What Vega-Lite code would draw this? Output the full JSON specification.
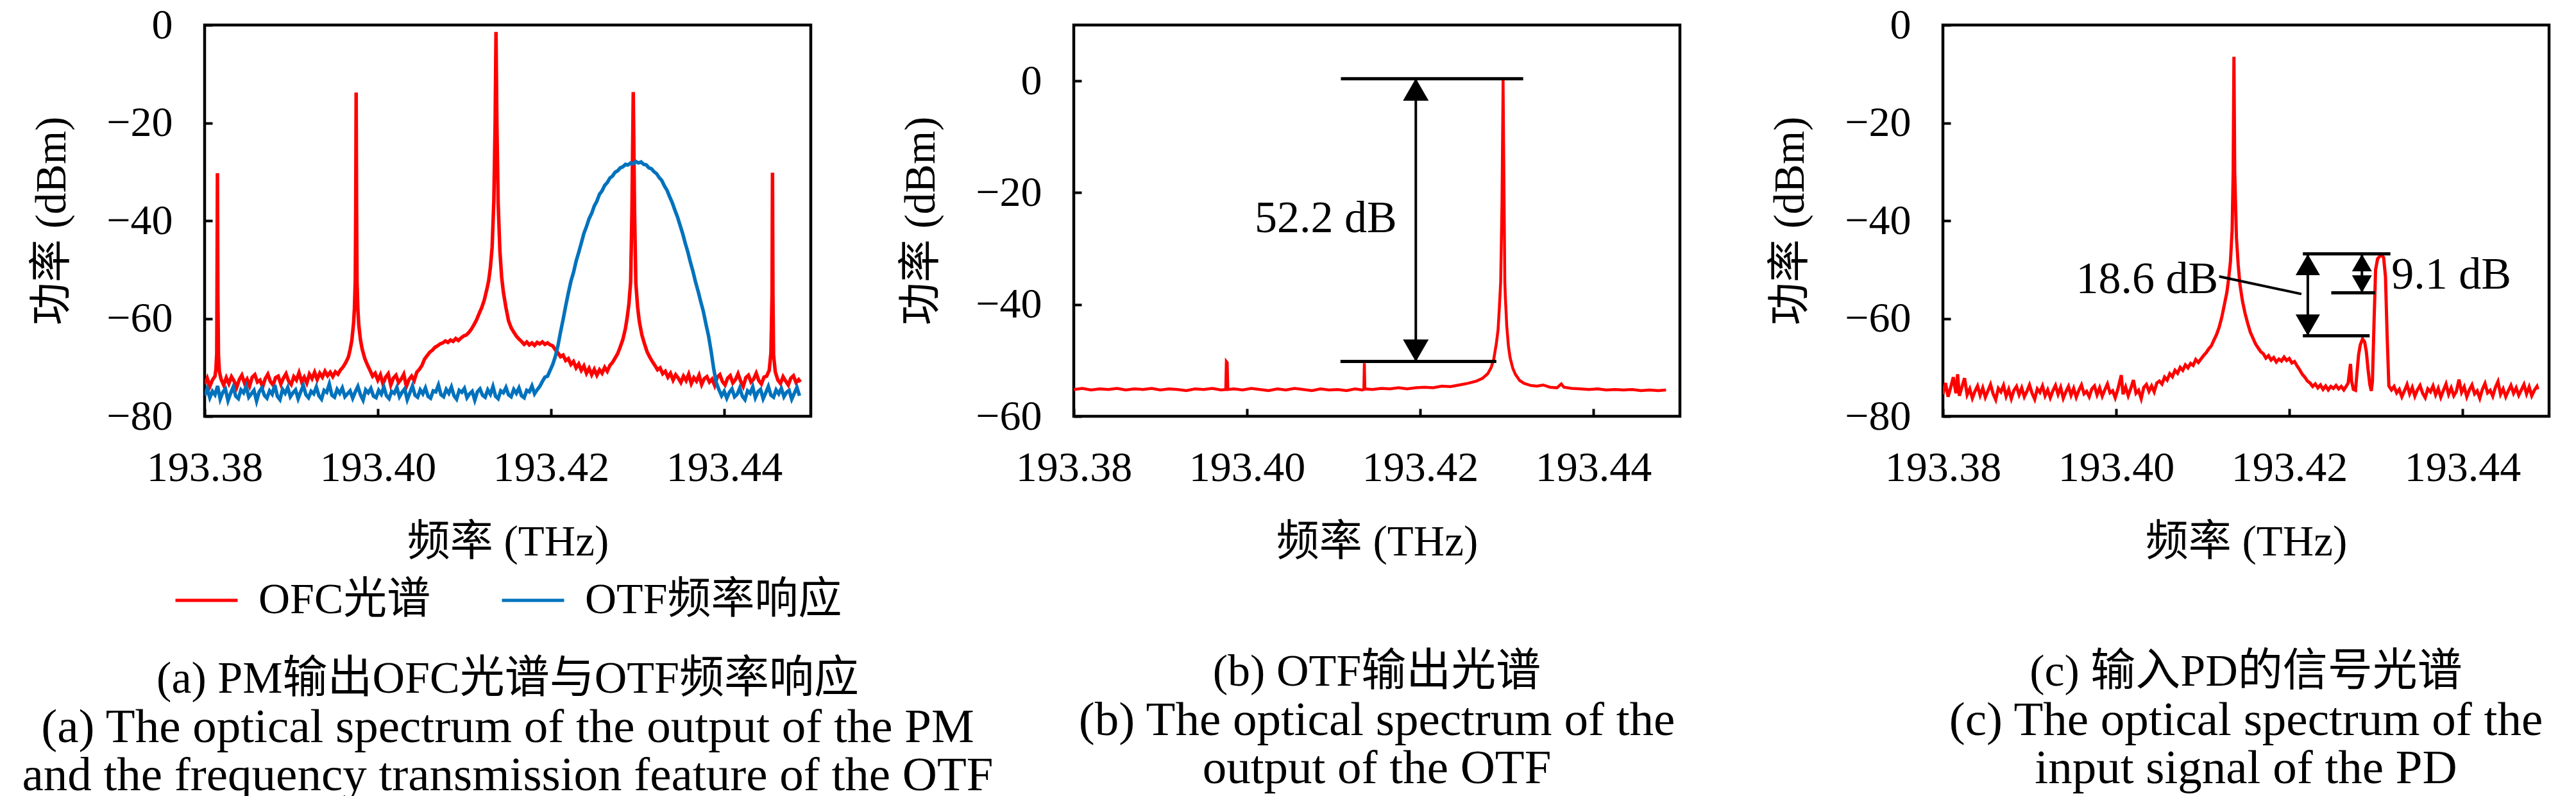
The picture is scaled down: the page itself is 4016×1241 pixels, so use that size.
{
  "$schema": "https://vega.github.io/schema/vega-lite/v6.json",
  "padding": {"left": 32, "top": 3, "right": 5, "bottom": 0},
  "background": "white",
  "bounds": "flush",
  "spacing": 410,
  "resolve": {"scale": {"color": "independent"}},
  "config": {
    "font": "Liberation Serif, Noto Sans CJK SC",
    "view": {"stroke": "black", "strokeWidth": 4.5},
    "axis": {
      "domain": false, "grid": false, "tickSize": -12, "tickWidth": 4, "tickColor": "black",
      "labelFont": "Liberation Serif, Noto Sans CJK SC", "labelFontSize": 66, "labelColor": "black",
      "labelFlush": false, "labelOverlap": false, "labelLimit": 0,
      "titleFont": "Liberation Serif, Noto Sans CJK SC", "titleFontSize": 67, "titleFontWeight": "normal", "titleColor": "black"
    },
    "axisX": {"labelPadding": 60, "titlePadding": 50},
    "axisY": {"labelPadding": 62, "titlePadding": 50},
    "title": {
      "orient": "bottom", "anchor": "middle", "frame": "group",
      "font": "Liberation Serif, Noto Sans CJK SC", "fontSize": 70, "fontWeight": "normal", "color": "black",
      "subtitleFont": "Liberation Serif, Noto Sans CJK SC", "subtitleFontSize": 75, "subtitleColor": "black",
      "subtitleLineHeight": 75, "subtitlePadding": 0
    },
    "legend": {
      "orient": "bottom", "direction": "horizontal", "symbolType": "stroke", "symbolSize": 9400,
      "symbolStrokeWidth": 5, "labelFont": "Liberation Serif, Noto Sans CJK SC", "labelFontSize": 68,
      "labelColor": "black", "labelOffset": 30, "labelLimit": 0, "columnPadding": 100, "offset": 7,
      "layout": {"bottom": {"anchor": "middle"}}
    },
    "text": {"font": "Liberation Serif, Noto Sans CJK SC", "fontSize": 70, "color": "black"}
  },
  "datasets": {
    "a_ofc": [
      {"f":193.3800,"p":-73.4},{"f":193.3803,"p":-72.2},{"f":193.3806,"p":-73.9},{"f":193.3809,"p":-72.6},{"f":193.3812,"p":-71.8},{"f":193.3813,"p":-70.5},{"f":193.3814,"p":-67.2},{"f":193.38143,"p":-55},{"f":193.38148,"p":-30.3},{"f":193.38153,"p":-55},{"f":193.3816,"p":-67.5},{"f":193.3817,"p":-70.8},{"f":193.3819,"p":-72.4},{"f":193.3822,"p":-73.6},{"f":193.3825,"p":-72.1},{"f":193.3828,"p":-73.3},{"f":193.3831,"p":-71.9},{"f":193.3834,"p":-72.8},{"f":193.3837,"p":-74.1},{"f":193.3840,"p":-72.5},{"f":193.3843,"p":-71.6},{"f":193.3846,"p":-73.2},{"f":193.3849,"p":-72.4},{"f":193.3852,"p":-73.8},{"f":193.3855,"p":-72.0},{"f":193.3858,"p":-71.5},{"f":193.3861,"p":-73.0},{"f":193.3864,"p":-72.6},{"f":193.3867,"p":-74.0},{"f":193.3870,"p":-72.3},{"f":193.3873,"p":-71.4},{"f":193.3876,"p":-72.9},{"f":193.3879,"p":-73.6},{"f":193.3882,"p":-72.1},{"f":193.3885,"p":-71.8},{"f":193.3888,"p":-73.4},{"f":193.3891,"p":-72.2},{"f":193.3894,"p":-71.3},{"f":193.3897,"p":-72.8},{"f":193.3900,"p":-73.5},{"f":193.3903,"p":-71.9},{"f":193.3906,"p":-72.6},{"f":193.3909,"p":-71.1},{"f":193.3912,"p":-72.9},{"f":193.3915,"p":-72.0},{"f":193.3918,"p":-73.2},{"f":193.3921,"p":-71.4},{"f":193.3924,"p":-72.3},{"f":193.3927,"p":-71.0},{"f":193.3930,"p":-72.5},{"f":193.3933,"p":-71.2},{"f":193.3936,"p":-72.0},{"f":193.3939,"p":-70.8},{"f":193.3942,"p":-71.7},{"f":193.3945,"p":-71.0},{"f":193.3948,"p":-71.9},{"f":193.3951,"p":-70.9},{"f":193.3954,"p":-71.4},{"f":193.3957,"p":-70.5},{"f":193.3960,"p":-69.9},{"f":193.3963,"p":-69.0},{"f":193.3966,"p":-67.9},{"f":193.3968,"p":-66.4},{"f":193.3970,"p":-64.5},{"f":193.3972,"p":-61.0},{"f":193.3973,"p":-58.0},{"f":193.3974,"p":-52.0},{"f":193.39745,"p":-38},{"f":193.3975,"p":-13.8},{"f":193.39755,"p":-38},{"f":193.3976,"p":-52.5},{"f":193.3977,"p":-58.2},{"f":193.3978,"p":-61.3},{"f":193.3980,"p":-64.4},{"f":193.3982,"p":-66.3},{"f":193.3985,"p":-68.2},{"f":193.3988,"p":-69.5},{"f":193.3991,"p":-70.6},{"f":193.3994,"p":-71.8},{"f":193.3997,"p":-71.2},{"f":193.4000,"p":-72.6},{"f":193.4003,"p":-71.5},{"f":193.4006,"p":-73.4},{"f":193.4009,"p":-72.0},{"f":193.4012,"p":-71.3},{"f":193.4015,"p":-73.6},{"f":193.4018,"p":-72.2},{"f":193.4021,"p":-71.6},{"f":193.4024,"p":-73.1},{"f":193.4027,"p":-72.4},{"f":193.4030,"p":-71.4},{"f":193.4033,"p":-73.9},{"f":193.4036,"p":-72.5},{"f":193.4039,"p":-71.8},{"f":193.4042,"p":-72.7},{"f":193.4045,"p":-71.0},{"f":193.4048,"p":-70.4},{"f":193.4051,"p":-69.6},{"f":193.4054,"p":-68.3},{"f":193.4057,"p":-67.6},{"f":193.4060,"p":-66.9},{"f":193.4063,"p":-66.5},{"f":193.4066,"p":-65.9},{"f":193.4069,"p":-65.6},{"f":193.4072,"p":-65.2},{"f":193.4075,"p":-65.0},{"f":193.4078,"p":-64.6},{"f":193.4081,"p":-64.9},{"f":193.4084,"p":-64.4},{"f":193.4087,"p":-64.7},{"f":193.4090,"p":-64.1},{"f":193.4093,"p":-64.5},{"f":193.4096,"p":-64.0},{"f":193.4099,"p":-63.6},{"f":193.4102,"p":-63.4},{"f":193.4105,"p":-62.9},{"f":193.4108,"p":-62.2},{"f":193.4111,"p":-61.3},{"f":193.4114,"p":-60.3},{"f":193.4117,"p":-59.0},{"f":193.4120,"p":-57.8},{"f":193.4123,"p":-56.2},{"f":193.4126,"p":-54.0},{"f":193.4128,"p":-52.3},{"f":193.4130,"p":-49.6},{"f":193.4132,"p":-45.5},{"f":193.4134,"p":-36.0},{"f":193.41355,"p":-20},{"f":193.41365,"p":-1.4},{"f":193.41375,"p":-20},{"f":193.4139,"p":-36.5},{"f":193.4141,"p":-46.2},{"f":193.4143,"p":-51.5},{"f":193.4145,"p":-54.6},{"f":193.4148,"p":-57.8},{"f":193.4151,"p":-60.5},{"f":193.4154,"p":-61.9},{"f":193.4157,"p":-62.8},{"f":193.4160,"p":-63.6},{"f":193.4163,"p":-64.2},{"f":193.4166,"p":-64.7},{"f":193.4169,"p":-65.3},{"f":193.4172,"p":-64.8},{"f":193.4175,"p":-65.4},{"f":193.4178,"p":-65.0},{"f":193.4181,"p":-65.5},{"f":193.4184,"p":-64.9},{"f":193.4187,"p":-65.2},{"f":193.4190,"p":-64.8},{"f":193.4193,"p":-65.3},{"f":193.4196,"p":-65.0},{"f":193.4199,"p":-65.4},{"f":193.4202,"p":-65.6},{"f":193.4205,"p":-66.4},{"f":193.4208,"p":-67.0},{"f":193.4211,"p":-67.8},{"f":193.4214,"p":-67.5},{"f":193.4217,"p":-68.6},{"f":193.4220,"p":-68.2},{"f":193.4223,"p":-69.4},{"f":193.4226,"p":-68.8},{"f":193.4229,"p":-70.1},{"f":193.4232,"p":-69.3},{"f":193.4235,"p":-70.6},{"f":193.4238,"p":-69.7},{"f":193.4241,"p":-71.2},{"f":193.4244,"p":-70.2},{"f":193.4247,"p":-71.5},{"f":193.4250,"p":-70.4},{"f":193.4253,"p":-71.6},{"f":193.4256,"p":-70.5},{"f":193.4259,"p":-71.2},{"f":193.4262,"p":-70.0},{"f":193.4265,"p":-70.8},{"f":193.4268,"p":-69.6},{"f":193.4271,"p":-69.0},{"f":193.4274,"p":-68.1},{"f":193.4277,"p":-67.2},{"f":193.4280,"p":-65.8},{"f":193.4283,"p":-64.3},{"f":193.4286,"p":-62.0},{"f":193.4288,"p":-59.8},{"f":193.4290,"p":-57.0},{"f":193.4292,"p":-52.5},{"f":193.42935,"p":-38},{"f":193.4295,"p":-13.7},{"f":193.42965,"p":-38},{"f":193.4298,"p":-52.8},{"f":193.4300,"p":-57.6},{"f":193.4302,"p":-60.6},{"f":193.4305,"p":-63.4},{"f":193.4308,"p":-65.2},{"f":193.4311,"p":-66.8},{"f":193.4314,"p":-67.9},{"f":193.4317,"p":-68.8},{"f":193.4320,"p":-69.6},{"f":193.4323,"p":-70.5},{"f":193.4326,"p":-70.1},{"f":193.4329,"p":-71.3},{"f":193.4332,"p":-70.8},{"f":193.4335,"p":-72.0},{"f":193.4338,"p":-71.2},{"f":193.4341,"p":-72.6},{"f":193.4344,"p":-71.5},{"f":193.4347,"p":-72.2},{"f":193.4350,"p":-73.1},{"f":193.4353,"p":-71.8},{"f":193.4356,"p":-72.7},{"f":193.4359,"p":-71.4},{"f":193.4362,"p":-73.3},{"f":193.4365,"p":-72.1},{"f":193.4368,"p":-72.8},{"f":193.4371,"p":-71.6},{"f":193.4374,"p":-73.5},{"f":193.4377,"p":-72.3},{"f":193.4380,"p":-71.9},{"f":193.4383,"p":-73.0},{"f":193.4386,"p":-72.4},{"f":193.4389,"p":-73.7},{"f":193.4392,"p":-72.0},{"f":193.4395,"p":-71.5},{"f":193.4398,"p":-72.9},{"f":193.4401,"p":-73.6},{"f":193.4404,"p":-72.2},{"f":193.4407,"p":-71.7},{"f":193.4410,"p":-73.2},{"f":193.4413,"p":-72.5},{"f":193.4416,"p":-71.3},{"f":193.4419,"p":-72.8},{"f":193.4422,"p":-73.9},{"f":193.4425,"p":-72.1},{"f":193.4428,"p":-71.6},{"f":193.4431,"p":-73.0},{"f":193.4434,"p":-72.4},{"f":193.4437,"p":-71.2},{"f":193.4440,"p":-72.7},{"f":193.4443,"p":-73.4},{"f":193.4446,"p":-72.0},{"f":193.4449,"p":-71.8},{"f":193.4452,"p":-70.6},{"f":193.4454,"p":-67.0},{"f":193.44553,"p":-55},{"f":193.44558,"p":-30.2},{"f":193.44563,"p":-55},{"f":193.4457,"p":-67.4},{"f":193.4459,"p":-70.9},{"f":193.4462,"p":-72.6},{"f":193.4465,"p":-73.3},{"f":193.4468,"p":-71.9},{"f":193.4471,"p":-72.8},{"f":193.4474,"p":-73.6},{"f":193.4477,"p":-72.2},{"f":193.4480,"p":-71.7},{"f":193.4483,"p":-73.1},{"f":193.4486,"p":-72.5},{"f":193.4488,"p":-73.0}
    ],
    "a_otf": [
      {"f":193.3800,"p":-75.8},{"f":193.3803,"p":-74.3},{"f":193.3806,"p":-76.2},{"f":193.3809,"p":-74.9},{"f":193.3812,"p":-75.6},{"f":193.3815,"p":-73.8},{"f":193.3818,"p":-76.5},{"f":193.3821,"p":-75.1},{"f":193.3824,"p":-74.4},{"f":193.3827,"p":-76.8},{"f":193.3830,"p":-75.3},{"f":193.3833,"p":-74.0},{"f":193.3836,"p":-75.9},{"f":193.3839,"p":-76.4},{"f":193.3842,"p":-74.6},{"f":193.3845,"p":-75.2},{"f":193.3848,"p":-73.9},{"f":193.3851,"p":-76.1},{"f":193.3854,"p":-75.4},{"f":193.3857,"p":-74.7},{"f":193.3860,"p":-76.9},{"f":193.3863,"p":-75.0},{"f":193.3866,"p":-74.2},{"f":193.3869,"p":-75.7},{"f":193.3872,"p":-76.3},{"f":193.3875,"p":-74.8},{"f":193.3878,"p":-75.5},{"f":193.3881,"p":-73.6},{"f":193.3884,"p":-75.9},{"f":193.3887,"p":-76.6},{"f":193.3890,"p":-74.5},{"f":193.3893,"p":-75.3},{"f":193.3896,"p":-74.1},{"f":193.3899,"p":-76.0},{"f":193.3902,"p":-75.2},{"f":193.3905,"p":-74.6},{"f":193.3908,"p":-76.4},{"f":193.3911,"p":-75.0},{"f":193.3914,"p":-73.7},{"f":193.3917,"p":-75.6},{"f":193.3920,"p":-76.2},{"f":193.3923,"p":-74.9},{"f":193.3926,"p":-75.4},{"f":193.3929,"p":-74.0},{"f":193.3932,"p":-75.8},{"f":193.3935,"p":-76.5},{"f":193.3938,"p":-74.7},{"f":193.3941,"p":-75.1},{"f":193.3944,"p":-73.4},{"f":193.3947,"p":-75.7},{"f":193.3950,"p":-76.1},{"f":193.3953,"p":-74.5},{"f":193.3956,"p":-75.3},{"f":193.3959,"p":-74.2},{"f":193.3962,"p":-76.0},{"f":193.3965,"p":-75.4},{"f":193.3968,"p":-74.8},{"f":193.3971,"p":-76.3},{"f":193.3974,"p":-75.0},{"f":193.3977,"p":-73.9},{"f":193.3980,"p":-75.6},{"f":193.3983,"p":-76.7},{"f":193.3986,"p":-74.6},{"f":193.3989,"p":-75.2},{"f":193.3992,"p":-74.3},{"f":193.3995,"p":-75.9},{"f":193.3998,"p":-76.2},{"f":193.4001,"p":-74.7},{"f":193.4004,"p":-75.5},{"f":193.4007,"p":-74.0},{"f":193.4010,"p":-75.8},{"f":193.4013,"p":-76.4},{"f":193.4016,"p":-74.9},{"f":193.4019,"p":-75.3},{"f":193.4022,"p":-74.1},{"f":193.4025,"p":-76.0},{"f":193.4028,"p":-75.1},{"f":193.4031,"p":-74.4},{"f":193.4034,"p":-76.6},{"f":193.4037,"p":-75.2},{"f":193.4040,"p":-73.8},{"f":193.4043,"p":-75.7},{"f":193.4046,"p":-76.1},{"f":193.4049,"p":-74.6},{"f":193.4052,"p":-75.4},{"f":193.4055,"p":-74.2},{"f":193.4058,"p":-75.9},{"f":193.4061,"p":-76.3},{"f":193.4064,"p":-74.8},{"f":193.4067,"p":-75.0},{"f":193.4070,"p":-73.6},{"f":193.4073,"p":-75.6},{"f":193.4076,"p":-76.0},{"f":193.4079,"p":-74.5},{"f":193.4082,"p":-75.3},{"f":193.4085,"p":-74.0},{"f":193.4088,"p":-75.8},{"f":193.4091,"p":-76.5},{"f":193.4094,"p":-74.7},{"f":193.4097,"p":-75.1},{"f":193.4100,"p":-74.3},{"f":193.4103,"p":-76.2},{"f":193.4106,"p":-75.4},{"f":193.4109,"p":-74.9},{"f":193.4112,"p":-76.7},{"f":193.4115,"p":-75.0},{"f":193.4118,"p":-74.4},{"f":193.4121,"p":-75.7},{"f":193.4124,"p":-76.1},{"f":193.4127,"p":-74.6},{"f":193.4130,"p":-75.5},{"f":193.4133,"p":-73.9},{"f":193.4136,"p":-75.9},{"f":193.4139,"p":-76.4},{"f":193.4142,"p":-74.8},{"f":193.4145,"p":-75.2},{"f":193.4148,"p":-74.1},{"f":193.4151,"p":-75.6},{"f":193.4154,"p":-76.0},{"f":193.4157,"p":-74.5},{"f":193.4160,"p":-75.3},{"f":193.4163,"p":-74.2},{"f":193.4166,"p":-75.8},{"f":193.4169,"p":-76.2},{"f":193.4172,"p":-74.7},{"f":193.4175,"p":-75.0},{"f":193.4178,"p":-73.8},{"f":193.4181,"p":-75.4},{"f":193.4184,"p":-74.6},{"f":193.4187,"p":-73.9},{"f":193.4190,"p":-72.9},{"f":193.4193,"p":-72.0},{"f":193.4196,"p":-71.8},{"f":193.4199,"p":-70.6},{"f":193.4202,"p":-69.4},{"f":193.4205,"p":-67.8},{"f":193.4208,"p":-65.6},{"f":193.4211,"p":-62.8},{"f":193.4214,"p":-60.2},{"f":193.4217,"p":-57.4},{"f":193.4220,"p":-54.8},{"f":193.4223,"p":-52.4},{"f":193.4226,"p":-50.6},{"f":193.4229,"p":-48.3},{"f":193.4232,"p":-46.5},{"f":193.4235,"p":-44.6},{"f":193.4238,"p":-42.6},{"f":193.4241,"p":-41.2},{"f":193.4244,"p":-39.6},{"f":193.4247,"p":-38.5},{"f":193.4250,"p":-37.0},{"f":193.4253,"p":-36.0},{"f":193.4256,"p":-34.6},{"f":193.4259,"p":-33.9},{"f":193.4262,"p":-32.8},{"f":193.4265,"p":-32.2},{"f":193.4268,"p":-31.3},{"f":193.4271,"p":-30.9},{"f":193.4274,"p":-30.1},{"f":193.4277,"p":-29.8},{"f":193.4280,"p":-29.2},{"f":193.4283,"p":-29.0},{"f":193.4286,"p":-28.5},{"f":193.4289,"p":-28.6},{"f":193.4292,"p":-28.2},{"f":193.4295,"p":-28.4},{"f":193.4298,"p":-27.9},{"f":193.4301,"p":-28.2},{"f":193.4304,"p":-28.0},{"f":193.4307,"p":-28.5},{"f":193.4310,"p":-28.6},{"f":193.4313,"p":-29.2},{"f":193.4316,"p":-29.4},{"f":193.4319,"p":-30.0},{"f":193.4322,"p":-30.4},{"f":193.4325,"p":-31.2},{"f":193.4328,"p":-31.8},{"f":193.4331,"p":-32.9},{"f":193.4334,"p":-33.8},{"f":193.4337,"p":-35.1},{"f":193.4340,"p":-36.3},{"f":193.4343,"p":-37.8},{"f":193.4346,"p":-39.2},{"f":193.4349,"p":-40.9},{"f":193.4352,"p":-42.6},{"f":193.4355,"p":-44.6},{"f":193.4358,"p":-46.4},{"f":193.4361,"p":-48.5},{"f":193.4364,"p":-50.4},{"f":193.4367,"p":-52.6},{"f":193.4370,"p":-54.5},{"f":193.4373,"p":-56.6},{"f":193.4376,"p":-58.6},{"f":193.4379,"p":-61.2},{"f":193.4382,"p":-63.6},{"f":193.4385,"p":-66.8},{"f":193.4388,"p":-70.4},{"f":193.4391,"p":-73.2},{"f":193.4394,"p":-74.6},{"f":193.4397,"p":-75.8},{"f":193.4400,"p":-74.9},{"f":193.4403,"p":-76.3},{"f":193.4406,"p":-75.1},{"f":193.4409,"p":-74.4},{"f":193.4412,"p":-76.0},{"f":193.4415,"p":-75.5},{"f":193.4418,"p":-74.2},{"f":193.4421,"p":-75.9},{"f":193.4424,"p":-76.6},{"f":193.4427,"p":-74.8},{"f":193.4430,"p":-75.3},{"f":193.4433,"p":-74.0},{"f":193.4436,"p":-76.2},{"f":193.4439,"p":-75.0},{"f":193.4442,"p":-74.5},{"f":193.4445,"p":-76.4},{"f":193.4448,"p":-75.2},{"f":193.4451,"p":-73.9},{"f":193.4454,"p":-75.7},{"f":193.4457,"p":-76.1},{"f":193.4460,"p":-74.6},{"f":193.4463,"p":-75.4},{"f":193.4466,"p":-74.3},{"f":193.4469,"p":-76.0},{"f":193.4472,"p":-75.1},{"f":193.4475,"p":-74.7},{"f":193.4478,"p":-76.5},{"f":193.4481,"p":-75.3},{"f":193.4484,"p":-74.1},{"f":193.4487,"p":-75.8}
    ],
    "b_out": [
      {"f":193.3800,"p":-55.2},{"f":193.3810,"p":-55.0},{"f":193.3820,"p":-55.3},{"f":193.3830,"p":-55.1},{"f":193.3840,"p":-55.2},{"f":193.3850,"p":-55.0},{"f":193.3860,"p":-55.3},{"f":193.3870,"p":-55.1},{"f":193.3880,"p":-55.2},{"f":193.3890,"p":-55.0},{"f":193.3900,"p":-55.3},{"f":193.3910,"p":-55.1},{"f":193.3920,"p":-55.2},{"f":193.3930,"p":-55.4},{"f":193.3940,"p":-55.1},{"f":193.3950,"p":-55.2},{"f":193.3960,"p":-55.0},{"f":193.3970,"p":-55.3},{"f":193.39755,"p":-55.2},{"f":193.39762,"p":-50.2},{"f":193.39772,"p":-50.4},{"f":193.3978,"p":-55.2},{"f":193.3985,"p":-55.1},{"f":193.3995,"p":-55.3},{"f":193.4005,"p":-55.0},{"f":193.4015,"p":-55.2},{"f":193.4025,"p":-55.4},{"f":193.4035,"p":-55.1},{"f":193.4045,"p":-55.3},{"f":193.4055,"p":-55.0},{"f":193.4065,"p":-55.2},{"f":193.4075,"p":-55.4},{"f":193.4085,"p":-55.1},{"f":193.4095,"p":-55.3},{"f":193.4105,"p":-55.2},{"f":193.4115,"p":-55.4},{"f":193.4125,"p":-55.1},{"f":193.4133,"p":-55.3},{"f":193.4135,"p":-55.2},{"f":193.41356,"p":-50.5},{"f":193.41362,"p":-55.1},{"f":193.4145,"p":-55.2},{"f":193.4155,"p":-55.0},{"f":193.4165,"p":-55.1},{"f":193.4175,"p":-54.9},{"f":193.4185,"p":-55.1},{"f":193.4195,"p":-54.9},{"f":193.4205,"p":-54.8},{"f":193.4215,"p":-54.9},{"f":193.4225,"p":-54.6},{"f":193.4235,"p":-54.7},{"f":193.4245,"p":-54.4},{"f":193.4255,"p":-54.1},{"f":193.4265,"p":-53.7},{"f":193.4272,"p":-53.2},{"f":193.4278,"p":-52.4},{"f":193.4282,"p":-51.3},{"f":193.4285,"p":-49.8},{"f":193.4288,"p":-47.0},{"f":193.4290,"p":-44.5},{"f":193.42915,"p":-40.5},{"f":193.4293,"p":-36},{"f":193.42945,"p":-22},{"f":193.42958,"p":0.2},{"f":193.4297,"p":-22},{"f":193.42978,"p":-36},{"f":193.42985,"p":-39.0},{"f":193.4299,"p":-40.5},{"f":193.4300,"p":-43.8},{"f":193.4302,"p":-47.5},{"f":193.4304,"p":-49.6},{"f":193.4307,"p":-51.4},{"f":193.4310,"p":-52.5},{"f":193.4315,"p":-53.6},{"f":193.4320,"p":-54.1},{"f":193.4328,"p":-54.5},{"f":193.4335,"p":-54.6},{"f":193.4342,"p":-54.4},{"f":193.4350,"p":-54.8},{"f":193.4358,"p":-54.9},{"f":193.4363,"p":-54.2},{"f":193.4366,"p":-54.8},{"f":193.4375,"p":-55.0},{"f":193.4385,"p":-55.1},{"f":193.4395,"p":-55.2},{"f":193.4405,"p":-55.1},{"f":193.4415,"p":-55.3},{"f":193.4425,"p":-55.2},{"f":193.4435,"p":-55.3},{"f":193.4445,"p":-55.2},{"f":193.4455,"p":-55.4},{"f":193.4465,"p":-55.3},{"f":193.4475,"p":-55.4},{"f":193.4484,"p":-55.3}
    ],
    "c_in": [
      {"f":193.3800,"p":-75.5},{"f":193.3803,"p":-73.2},{"f":193.3806,"p":-76.0},{"f":193.3809,"p":-74.1},{"f":193.3812,"p":-72.0},{"f":193.3815,"p":-75.3},{"f":193.3817,"p":-71.4},{"f":193.3819,"p":-75.8},{"f":193.3822,"p":-74.0},{"f":193.3825,"p":-72.2},{"f":193.3828,"p":-75.6},{"f":193.3831,"p":-74.4},{"f":193.3834,"p":-76.3},{"f":193.3837,"p":-74.9},{"f":193.3840,"p":-73.8},{"f":193.3843,"p":-75.7},{"f":193.3846,"p":-74.2},{"f":193.3849,"p":-76.1},{"f":193.3852,"p":-74.8},{"f":193.3855,"p":-73.5},{"f":193.3858,"p":-75.4},{"f":193.3861,"p":-76.6},{"f":193.3864,"p":-74.3},{"f":193.3867,"p":-75.0},{"f":193.3870,"p":-73.7},{"f":193.3873,"p":-75.9},{"f":193.3876,"p":-74.5},{"f":193.3879,"p":-76.4},{"f":193.3882,"p":-74.7},{"f":193.3885,"p":-73.9},{"f":193.3888,"p":-75.6},{"f":193.3891,"p":-74.2},{"f":193.3894,"p":-76.0},{"f":193.3897,"p":-74.9},{"f":193.3900,"p":-73.6},{"f":193.3903,"p":-75.3},{"f":193.3906,"p":-76.5},{"f":193.3909,"p":-74.4},{"f":193.3912,"p":-75.1},{"f":193.3915,"p":-73.8},{"f":193.3918,"p":-75.8},{"f":193.3921,"p":-74.6},{"f":193.3924,"p":-76.2},{"f":193.3927,"p":-74.8},{"f":193.3930,"p":-73.7},{"f":193.3933,"p":-75.5},{"f":193.3936,"p":-74.1},{"f":193.3939,"p":-76.3},{"f":193.3942,"p":-75.0},{"f":193.3945,"p":-73.9},{"f":193.3948,"p":-75.7},{"f":193.3951,"p":-74.3},{"f":193.3954,"p":-76.1},{"f":193.3957,"p":-74.7},{"f":193.3960,"p":-73.6},{"f":193.3963,"p":-75.4},{"f":193.3966,"p":-74.9},{"f":193.3969,"p":-76.0},{"f":193.3972,"p":-74.4},{"f":193.3975,"p":-73.8},{"f":193.3978,"p":-75.6},{"f":193.3981,"p":-74.2},{"f":193.3984,"p":-75.9},{"f":193.3987,"p":-74.6},{"f":193.3990,"p":-73.4},{"f":193.3993,"p":-75.2},{"f":193.3996,"p":-74.8},{"f":193.3999,"p":-76.2},{"f":193.4002,"p":-74.5},{"f":193.4006,"p":-71.6},{"f":193.4008,"p":-75.5},{"f":193.4011,"p":-74.0},{"f":193.4014,"p":-75.8},{"f":193.4017,"p":-74.3},{"f":193.4020,"p":-72.6},{"f":193.4023,"p":-75.3},{"f":193.4026,"p":-74.7},{"f":193.4029,"p":-76.4},{"f":193.4032,"p":-74.1},{"f":193.4035,"p":-73.5},{"f":193.4038,"p":-74.9},{"f":193.4041,"p":-73.8},{"f":193.4044,"p":-75.0},{"f":193.4047,"p":-73.2},{"f":193.4050,"p":-72.8},{"f":193.4053,"p":-73.4},{"f":193.4056,"p":-72.0},{"f":193.4059,"p":-72.6},{"f":193.4062,"p":-71.3},{"f":193.4065,"p":-71.9},{"f":193.4068,"p":-70.6},{"f":193.4071,"p":-71.2},{"f":193.4074,"p":-70.0},{"f":193.4077,"p":-70.6},{"f":193.4080,"p":-69.5},{"f":193.4083,"p":-70.1},{"f":193.4086,"p":-69.2},{"f":193.4089,"p":-69.6},{"f":193.4092,"p":-68.4},{"f":193.4095,"p":-69.0},{"f":193.4098,"p":-68.3},{"f":193.4101,"p":-67.6},{"f":193.4104,"p":-67.0},{"f":193.4107,"p":-66.2},{"f":193.4110,"p":-65.6},{"f":193.4113,"p":-64.4},{"f":193.4116,"p":-63.3},{"f":193.4119,"p":-61.8},{"f":193.4122,"p":-59.8},{"f":193.4125,"p":-57.2},{"f":193.4128,"p":-54.6},{"f":193.4130,"p":-51.8},{"f":193.4132,"p":-48.5},{"f":193.4134,"p":-42.0},{"f":193.41352,"p":-30},{"f":193.41361,"p":-6.5},{"f":193.4137,"p":-30},{"f":193.4139,"p":-43.5},{"f":193.4141,"p":-49.0},{"f":193.4143,"p":-53.0},{"f":193.4146,"p":-56.5},{"f":193.4149,"p":-59.0},{"f":193.4152,"p":-61.0},{"f":193.4155,"p":-62.8},{"f":193.4158,"p":-64.0},{"f":193.4161,"p":-65.2},{"f":193.4164,"p":-66.0},{"f":193.4167,"p":-66.8},{"f":193.4170,"p":-67.2},{"f":193.4173,"p":-68.1},{"f":193.4176,"p":-67.6},{"f":193.4179,"p":-68.5},{"f":193.4182,"p":-68.0},{"f":193.4185,"p":-68.9},{"f":193.4188,"p":-68.3},{"f":193.4191,"p":-68.7},{"f":193.4194,"p":-67.9},{"f":193.4197,"p":-68.6},{"f":193.4200,"p":-68.2},{"f":193.4203,"p":-69.1},{"f":193.4206,"p":-68.8},{"f":193.4209,"p":-69.7},{"f":193.4212,"p":-70.5},{"f":193.4215,"p":-71.4},{"f":193.4218,"p":-72.0},{"f":193.4221,"p":-72.8},{"f":193.4224,"p":-73.2},{"f":193.4227,"p":-73.9},{"f":193.4230,"p":-73.4},{"f":193.4233,"p":-74.2},{"f":193.4236,"p":-73.6},{"f":193.4239,"p":-74.5},{"f":193.4242,"p":-73.8},{"f":193.4245,"p":-74.6},{"f":193.4248,"p":-73.9},{"f":193.4251,"p":-74.3},{"f":193.4254,"p":-73.7},{"f":193.4257,"p":-74.4},{"f":193.4260,"p":-73.9},{"f":193.4263,"p":-74.6},{"f":193.4266,"p":-73.8},{"f":193.4268,"p":-73.2},{"f":193.42707,"p":-69.3},{"f":193.4272,"p":-72.8},{"f":193.4274,"p":-74.5},{"f":193.42765,"p":-74.7},{"f":193.4278,"p":-71.5},{"f":193.4280,"p":-67.5},{"f":193.4282,"p":-65.4},{"f":193.42846,"p":-64.2},{"f":193.4287,"p":-64.8},{"f":193.4289,"p":-66.8},{"f":193.4291,"p":-70.5},{"f":193.4293,"p":-73.5},{"f":193.42947,"p":-74.8},{"f":193.4296,"p":-73.0},{"f":193.4298,"p":-60.0},{"f":193.42997,"p":-50.0},{"f":193.4302,"p":-47.8},{"f":193.4304,"p":-47.4},{"f":193.43067,"p":-47.0},{"f":193.4309,"p":-47.6},{"f":193.43111,"p":-51.5},{"f":193.4313,"p":-63.5},{"f":193.4315,"p":-73.8},{"f":193.4318,"p":-74.6},{"f":193.4321,"p":-73.9},{"f":193.4324,"p":-75.2},{"f":193.4327,"p":-74.5},{"f":193.4330,"p":-76.0},{"f":193.4333,"p":-74.8},{"f":193.4336,"p":-73.5},{"f":193.4339,"p":-75.4},{"f":193.4342,"p":-74.1},{"f":193.4345,"p":-75.9},{"f":193.4348,"p":-74.6},{"f":193.4351,"p":-73.7},{"f":193.4354,"p":-75.3},{"f":193.4357,"p":-76.2},{"f":193.4360,"p":-74.4},{"f":193.4363,"p":-75.0},{"f":193.4366,"p":-73.8},{"f":193.4369,"p":-75.6},{"f":193.4372,"p":-74.3},{"f":193.4375,"p":-76.1},{"f":193.4378,"p":-74.7},{"f":193.4381,"p":-73.4},{"f":193.4384,"p":-75.5},{"f":193.4387,"p":-74.2},{"f":193.4390,"p":-75.8},{"f":193.4393,"p":-74.9},{"f":193.4396,"p":-72.5},{"f":193.4399,"p":-75.1},{"f":193.4402,"p":-74.0},{"f":193.4405,"p":-76.0},{"f":193.4408,"p":-74.6},{"f":193.4411,"p":-73.6},{"f":193.4414,"p":-75.4},{"f":193.4417,"p":-74.8},{"f":193.4420,"p":-76.3},{"f":193.4423,"p":-74.5},{"f":193.4426,"p":-73.3},{"f":193.4429,"p":-75.2},{"f":193.4432,"p":-74.7},{"f":193.4435,"p":-75.9},{"f":193.4438,"p":-74.1},{"f":193.4441,"p":-72.9},{"f":193.4444,"p":-75.5},{"f":193.4447,"p":-74.4},{"f":193.4450,"p":-76.0},{"f":193.4453,"p":-74.8},{"f":193.4456,"p":-73.7},{"f":193.4459,"p":-75.3},{"f":193.4462,"p":-74.2},{"f":193.4465,"p":-75.7},{"f":193.4468,"p":-74.6},{"f":193.4471,"p":-73.5},{"f":193.4474,"p":-75.4},{"f":193.4477,"p":-74.0},{"f":193.4480,"p":-75.8},{"f":193.4483,"p":-74.7},{"f":193.4486,"p":-73.9},{"f":193.4487,"p":-74.5}
    ]
  },
  "hconcat": [
    {
      "width": 945,
      "height": 610,
      "title": {"text": "(a) PM输出OFC光谱与OTF频率响应", "subtitle": ["(a) The optical spectrum of the output of the PM", "and the frequency transmission feature of the OTF"], "offset": 55},
      "encoding": {
        "x": {"field": "f", "type": "quantitative", "scale": {"domain": [193.38, 193.45], "nice": false, "zero": false}, "axis": {"values": [193.38, 193.40, 193.42, 193.44], "format": ".2f", "title": "频率 (THz)"}},
        "y": {"field": "p", "type": "quantitative", "scale": {"domain": [-80, 0], "nice": false, "zero": false}, "axis": {"values": [-80, -60, -40, -20, 0], "title": "功率 (dBm)"}}
      },
      "layer": [
        {
          "data": {"name": "a_ofc"},
          "mark": {"type": "line", "strokeWidth": 5.5, "clip": true},
          "encoding": {"color": {"datum": "OFC光谱", "scale": {"domain": ["OFC光谱", "OTF频率响应"], "range": ["#ff0000", "#0072bd"]}, "legend": {"title": null}}}
        },
        {
          "data": {"name": "a_otf"},
          "mark": {"type": "line", "strokeWidth": 5.5, "clip": true},
          "encoding": {"color": {"datum": "OTF频率响应"}}
        }
      ]
    },
    {
      "width": 945,
      "height": 610,
      "title": {"text": "(b) OTF输出光谱", "subtitle": ["(b) The optical spectrum of the", "output of the OTF"], "offset": 136},
      "encoding": {
        "x": {"field": "f", "type": "quantitative", "scale": {"domain": [193.38, 193.45], "nice": false, "zero": false}, "axis": {"values": [193.38, 193.40, 193.42, 193.44], "format": ".2f", "title": "频率 (THz)"}},
        "y": {"field": "p", "type": "quantitative", "scale": {"domain": [-60, 10], "nice": false, "zero": false}, "axis": {"values": [-60, -40, -20, 0], "title": "功率 (dBm)"}}
      },
      "layer": [
        {
          "data": {"name": "b_out"},
          "mark": {"type": "line", "strokeWidth": 4.5, "color": "#ff0000", "clip": true}
        },
        {
          "data": {"values": [{"f": 193.41085, "f2": 193.4319, "p": 0.4}, {"f": 193.4108, "f2": 193.4288, "p": -50.2}]},
          "mark": {"type": "rule", "strokeWidth": 5, "color": "black"},
          "encoding": {"x2": {"field": "f2"}}
        },
        {
          "data": {"values": [{"f": 193.4195, "p": 0.4, "p2": -50.2}]},
          "mark": {"type": "rule", "strokeWidth": 4, "color": "black"},
          "encoding": {"y2": {"field": "p2"}}
        },
        {
          "data": {"values": [{"f": 193.4195, "p": -1.55}]},
          "mark": {"type": "point", "shape": "triangle-up", "filled": true, "size": 1600, "color": "black", "opacity": 1, "strokeWidth": 0}
        },
        {
          "data": {"values": [{"f": 193.4195, "p": -48.25}]},
          "mark": {"type": "point", "shape": "triangle-down", "filled": true, "size": 1600, "color": "black", "opacity": 1, "strokeWidth": 0}
        },
        {
          "data": {"values": [{"f": 193.4091, "p": -24.6, "t": "52.2 dB"}]},
          "mark": {"type": "text", "align": "center", "baseline": "middle", "fontSize": 70},
          "encoding": {"text": {"field": "t"}}
        }
      ]
    },
    {
      "width": 945,
      "height": 610,
      "title": {"text": "(c) 输入PD的信号光谱", "subtitle": ["(c) The optical spectrum of the", "input signal of the PD"], "offset": 136},
      "encoding": {
        "x": {"field": "f", "type": "quantitative", "scale": {"domain": [193.38, 193.45], "nice": false, "zero": false}, "axis": {"values": [193.38, 193.40, 193.42, 193.44], "format": ".2f", "title": "频率 (THz)"}},
        "y": {"field": "p", "type": "quantitative", "scale": {"domain": [-80, 0], "nice": false, "zero": false}, "axis": {"values": [-80, -60, -40, -20, 0], "title": "功率 (dBm)"}}
      },
      "layer": [
        {
          "data": {"name": "c_in"},
          "mark": {"type": "line", "strokeWidth": 5, "color": "#ff0000", "clip": true}
        },
        {
          "data": {"values": [{"f": 193.42157, "f2": 193.43168, "p": -46.8}, {"f": 193.42157, "f2": 193.42928, "p": -63.55}, {"f": 193.42485, "f2": 193.42991, "p": -54.75}]},
          "mark": {"type": "rule", "strokeWidth": 5, "color": "black"},
          "encoding": {"x2": {"field": "f2"}}
        },
        {
          "data": {"values": [{"f": 193.42214, "p": -46.8, "p2": -63.55}, {"f": 193.42839, "p": -46.8, "p2": -54.75}]},
          "mark": {"type": "rule", "strokeWidth": 4, "color": "black"},
          "encoding": {"y2": {"field": "p2"}}
        },
        {
          "data": {"values": [{"f": 193.4119, "f2": 193.4214, "p": -51.4, "p2": -55.0}]},
          "mark": {"type": "rule", "strokeWidth": 4, "color": "black"},
          "encoding": {"x2": {"field": "f2"}, "y2": {"field": "p2"}}
        },
        {
          "data": {"values": [{"f": 193.42214, "p": -49.0}]},
          "mark": {"type": "point", "shape": "triangle-up", "filled": true, "size": 1444, "color": "black", "opacity": 1, "strokeWidth": 0}
        },
        {
          "data": {"values": [{"f": 193.42214, "p": -61.35}]},
          "mark": {"type": "point", "shape": "triangle-down", "filled": true, "size": 1444, "color": "black", "opacity": 1, "strokeWidth": 0}
        },
        {
          "data": {"values": [{"f": 193.42839, "p": -48.6}]},
          "mark": {"type": "point", "shape": "triangle-up", "filled": true, "size": 961, "color": "black", "opacity": 1, "strokeWidth": 0}
        },
        {
          "data": {"values": [{"f": 193.42839, "p": -52.95}]},
          "mark": {"type": "point", "shape": "triangle-down", "filled": true, "size": 961, "color": "black", "opacity": 1, "strokeWidth": 0}
        },
        {
          "data": {"values": [{"f": 193.4118, "p": -52.0, "t": "18.6 dB"}]},
          "mark": {"type": "text", "align": "right", "baseline": "middle", "fontSize": 70},
          "encoding": {"text": {"field": "t"}}
        },
        {
          "data": {"values": [{"f": 193.4318, "p": -51.1, "t": "9.1 dB"}]},
          "mark": {"type": "text", "align": "left", "baseline": "middle", "fontSize": 70},
          "encoding": {"text": {"field": "t"}}
        }
      ]
    }
  ]
}
